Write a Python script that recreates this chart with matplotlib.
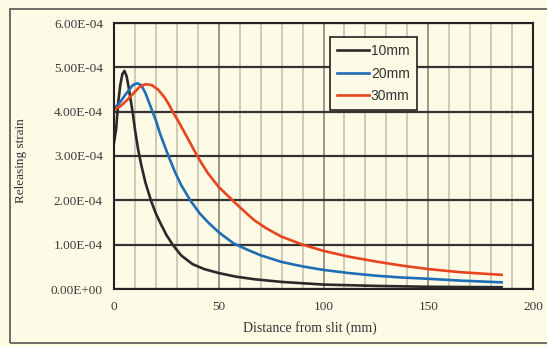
import matplotlib.pyplot as plt
from matplotlib.patches import Rectangle
from matplotlib.ticker import FuncFormatter, MultipleLocator

# Releasing strain vs distance from slit (x1e-4)
x_10 = [0, 1, 2, 3, 4, 5, 6, 7, 8, 9, 10, 11.5, 13, 15, 17.6, 20, 22, 25, 28, 32,
        37.5, 43, 50, 58, 67, 80, 100, 125, 150, 185]
y_10 = [3.3, 3.6, 4.2, 4.6, 4.85, 4.92, 4.8, 4.55, 4.25, 3.95, 3.6, 3.15, 2.8, 2.4,
        2.0, 1.7, 1.5, 1.22, 1.0, 0.76, 0.56, 0.45, 0.36, 0.28, 0.22, 0.16, 0.1,
        0.07, 0.05, 0.04]

x_20 = [0, 3, 6, 9, 11, 13, 15, 18, 20, 22, 24, 26, 29, 32, 36.4, 41, 45, 50, 57,
        63, 70, 80, 90, 100, 112, 125, 137, 150, 165, 185]
y_20 = [4.07, 4.22, 4.42, 4.6, 4.64, 4.6, 4.42, 4.05, 3.8, 3.5, 3.25, 3.0, 2.65,
        2.35, 2.0, 1.7, 1.5, 1.28, 1.03, 0.9, 0.76, 0.61, 0.51, 0.43, 0.36, 0.3,
        0.26, 0.23, 0.19, 0.15]

x_30 = [0, 3, 6, 9, 12, 15, 18, 21, 24, 26, 28, 31, 34, 37, 39.5, 42, 45, 50, 56.6,
        62, 67, 73, 80, 90, 100, 112, 125, 137, 150, 165, 185]
y_30 = [4.05, 4.12, 4.25, 4.4, 4.55, 4.62, 4.6, 4.5, 4.33, 4.18, 4.0, 3.76, 3.5,
        3.24, 3.02, 2.82, 2.6, 2.3, 2.0, 1.76, 1.55, 1.36, 1.18, 1.0, 0.86, 0.73,
        0.62, 0.53, 0.45, 0.38, 0.32]

bg = '#fdfbe6'
plt.rcParams['font.family'] = 'Liberation Serif'

fig = plt.figure(figsize=(5.47, 3.47), dpi=100, facecolor=bg)
ax = fig.add_axes([114 / 547, 1 - 289 / 347, 419 / 547, 266 / 347])
ax.set_facecolor(bg)

# outer frame of the scanned chart
fig.patches.append(Rectangle((10 / 547, 1 - 343 / 347), 0.999, 334 / 347,
                             transform=fig.transFigure, fill=False,
                             edgecolor='#555555', linewidth=1.2, zorder=0))

ax.plot(x_10, [v * 1e-4 for v in y_10], color='#2a2a2a', linewidth=1.9, label='10mm')
ax.plot(x_20, [v * 1e-4 for v in y_20], color='#1f6db4', linewidth=1.9, label='20mm')
ax.plot(x_30, [v * 1e-4 for v in y_30], color='#e8441e', linewidth=1.9, label='30mm')

ax.set_xlim(0, 200)
ax.set_ylim(0, 6e-4)
ax.xaxis.set_major_locator(MultipleLocator(50))
ax.xaxis.set_minor_locator(MultipleLocator(10))
ax.yaxis.set_major_locator(MultipleLocator(1e-4))
ax.yaxis.set_major_formatter(FuncFormatter(lambda v, p: f'{v:.2E}'))

ax.grid(True, axis='x', which='minor', color='#c9c7b4', linewidth=1.3)
ax.grid(True, axis='x', which='major', color='#9a9888', linewidth=1.4)
ax.grid(True, axis='y', which='major', color='#333333', linewidth=1.6)
ax.set_axisbelow(True)

ax.tick_params(which='both', length=0, labelsize=9.5, labelcolor='#3a3a3a')
ax.tick_params(axis='y', pad=8)
ax.tick_params(axis='x', pad=9)
for s in ax.spines.values():
    s.set_color('#222222')
    s.set_linewidth(1.5)

ax.set_xlabel('Distance from slit (mm)', fontsize=10, color='#333333')
ax.xaxis.set_label_coords((310 - 114) / 419, -0.12)
ax.set_ylabel('Releasing strain', fontsize=9.5, color='#333333')
ax.yaxis.set_label_coords(-0.208, 0.481)

leg = ax.legend(loc='upper left', bbox_to_anchor=(0.515, 0.947), borderaxespad=0,
                prop={'family': 'Liberation Sans', 'size': 10},
                frameon=True, fancybox=False, edgecolor='#222222', facecolor=bg,
                framealpha=1, handlelength=2.3, handletextpad=0.15,
                borderpad=0.5, labelspacing=0.62)
leg.get_frame().set_linewidth(1.2)
for t in leg.get_texts():
    t.set_color('#333333')

fig.savefig('out.png', dpi=100, facecolor=bg)
